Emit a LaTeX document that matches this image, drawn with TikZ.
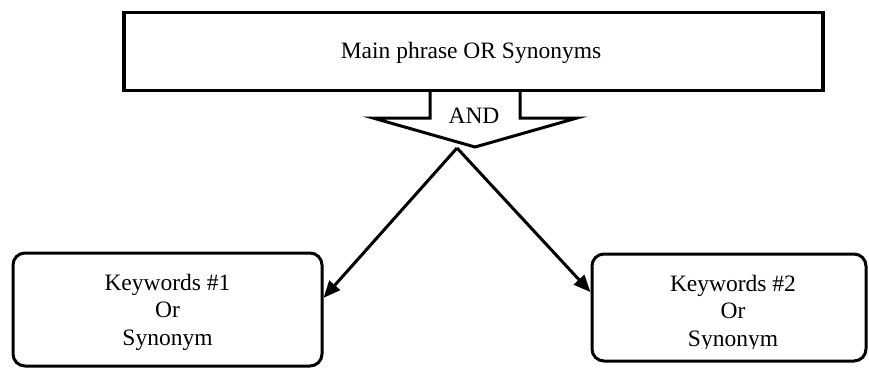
\documentclass[tikz,border=0pt]{standalone}
\usepackage{fontspec}
\setmainfont{Liberation Serif}
\usetikzlibrary{arrows.meta,calc}
\begin{document}
\begin{tikzpicture}[x=1pt,y=-1pt,
  txt/.style={font=\fontsize{23.5}{27.5}\selectfont, inner sep=0pt},
  mainbox/.style={draw, line width=3.5pt, minimum width=699pt, minimum height=78pt, inner sep=0pt, outer sep=0pt},
  kwbox/.style={draw, line width=3pt, rounded corners=12pt, inner sep=0pt},
  conn/.style={line width=3pt, -{Triangle[length=17pt,width=14pt]}},
  blockarrow/.style={line width=3pt, line join=miter}]
\useasboundingbox (0,0) rectangle (869,367);
\fill[white] (0,0) rectangle (869,367);
\node[mainbox] (main) at (473.5,51.5) {};
\node[txt, anchor=base] (maintext) at (471,58.5) {Main phrase OR Synonyms};
\coordinate (at) at (475,90.5);
\draw[blockarrow] ($(at)+(-45,0)$) -- ++(0,27.5) -- ++(-57,0) -- ($(at)+(0,56.5)$)
  -- ($(at)+(102,27.5)$) -- ++(-57,0) -- ($(at)+(45,0)$);
\node[txt, anchor=base] (and) at (474,123) {AND};
\coordinate (apex) at (457,148);
\node[kwbox, minimum width=309pt, minimum height=113pt] (kw1) at (167.5,309.5) {};
\node[txt, align=center, anchor=base] (kw1text) at (167.5,345) {Keywords \#1\\Or\\Synonym};
\node[kwbox, minimum width=274pt, minimum height=107pt] (kw2) at (729,307.5) {};
\begin{scope}
  \clip ($(kw2.north west)+(5,5)$) rectangle ($(kw2.east)+(-5,40.5)$);
  \node[txt, align=center, anchor=base] (kw2text) at (733,346) {Keywords \#2\\Or\\Synonym};
\end{scope}
\draw[conn] (apex) -- ($(kw1.north east)!0.4!(kw1.south east)$);
\draw[conn] (apex) -- ($(kw2.north west)!0.36!(kw2.south west)$);
\end{tikzpicture}
\end{document}
